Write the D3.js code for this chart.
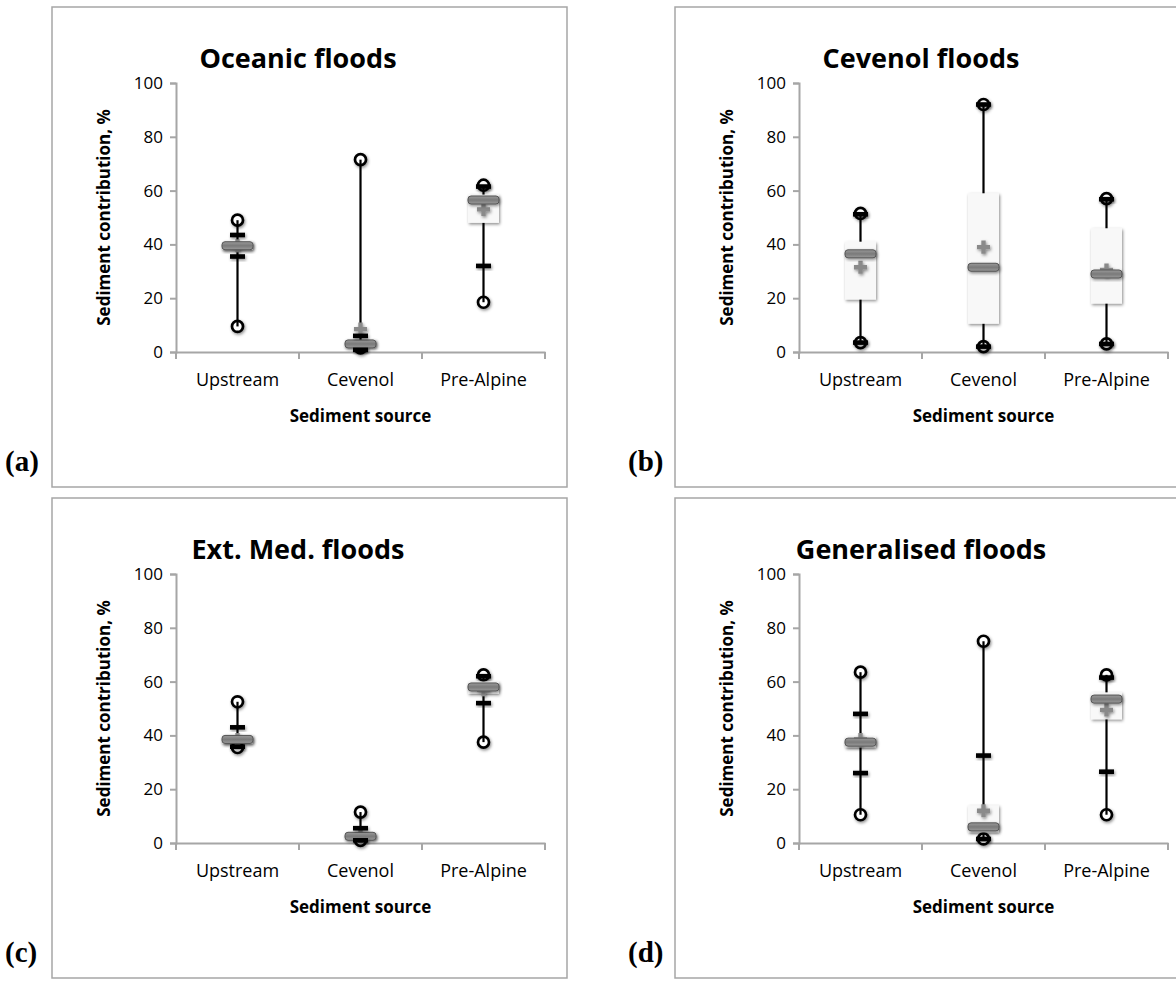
<!DOCTYPE html>
<html>
<head>
<meta charset="utf-8">
<script src="https://cdn.jsdelivr.net/npm/d3@7"></script>
<style>
  body { margin: 0; background: #fff; }
  svg { display: block; }
</style>
</head>
<body>
<div id="chart"></div>
<script>
// data (sediment contribution, %)
const categories = ["Upstream", "Cevenol", "Pre-Alpine"];
const panelTitles = ["Oceanic floods", "Cevenol floods", "Ext. Med. floods", "Generalised floods"];
const panelLetters = ["(a)", "(b)", "(c)", "(d)"];
const yTicks = [0, 20, 40, 60, 80, 100];

// one row per panel, one value per category
const minVals    = [[9.5, 1.5, 18.5], [3.5, 2, 3],     [35.5, 1, 37.5],  [10.5, 1.5, 10.5]];
const maxVals    = [[49, 71.5, 62],   [51.5, 92, 57],  [52.5, 11.5, 62.5], [63.5, 75, 62.5]];
const lowMarks   = [[35.5, 0.8, 32],  [3.5, 2, 3],     [35.8, 1, 52],    [26, 1.5, 26.5]];
const highMarks  = [[43.5, 6, 61.5],  [51.2, 92, 56.8], [43, 5.5, 62],   [48, 32.5, 61.5]];
const q1Vals     = [[38, 2, 48],      [19.5, 10.5, 18], [37, 1.5, 55.5], [35.5, 4, 46]];
const q3Vals     = [[41, 4.5, 58.5],  [41, 59, 46],    [40, 3.5, 60],    [39.5, 14, 56]];
const medianVals = [[39.5, 3, 56.5],  [36.5, 31.5, 29], [38.5, 2.5, 58], [37.5, 6, 53.5]];
const meanVals   = [[39.5, 8.5, 53],  [31.5, 39, 30.5], [38.5, 2.5, 57], [38.5, 12, 49.5]];

const W = 1176, H = 994;
const panelW = 515, panelH = 480;
const origins = [[52, 7], [675, 7], [52, 498], [675, 498]];
const m = { left: 124, right: 22, top: 76, bottom: 135 };

const svg = d3.select("#chart").append("svg")
  .attr("width", W).attr("height", H)
  .style("font-family", "'Open Sans', sans-serif");

const defs = svg.append("defs");
const shadow = defs.append("filter").attr("id", "shadow")
  .attr("x", "-50%").attr("y", "-50%").attr("width", "200%").attr("height", "200%");
shadow.append("feDropShadow").attr("dx", 1).attr("dy", 1.5)
  .attr("stdDeviation", 1.6).attr("flood-color", "#000").attr("flood-opacity", 0.45);

const grad = defs.append("linearGradient").attr("id", "medGrad")
  .attr("x1", 0).attr("y1", 0).attr("x2", 0).attr("y2", 1);
grad.append("stop").attr("offset", "0%").attr("stop-color", "#9a9a9a");
grad.append("stop").attr("offset", "50%").attr("stop-color", "#7a7a7a");
grad.append("stop").attr("offset", "100%").attr("stop-color", "#9a9a9a");

const x = d3.scaleBand().domain(categories)
  .range([m.left, panelW - m.right]).paddingInner(0).paddingOuter(0);
const y = d3.scaleLinear().domain([0, 100]).range([panelH - m.bottom, m.top]);

const axisColor = "#a6a6a6";

origins.forEach((o, p) => {
  // panel letter sits outside the frame
  svg.append("text")
    .attr("x", o[0] - 47).attr("y", o[1] + panelH - 16)
    .attr("font-family", "'Liberation Serif', 'Times New Roman', serif")
    .attr("font-weight", "bold").attr("font-size", 29)
    .text(panelLetters[p]);

  const g = svg.append("g").attr("transform", `translate(${o[0]},${o[1]})`);

  g.append("rect").attr("x", 0).attr("y", 0)
    .attr("width", panelW).attr("height", panelH)
    .attr("fill", "#fff").attr("stroke", axisColor).attr("stroke-width", 1.5);

  g.append("text")
    .attr("x", 246).attr("y", 61)
    .attr("text-anchor", "middle")
    .attr("font-weight", "bold").attr("font-size", 27)
    .text(panelTitles[p]);

  // y axis
  const yAxis = g.append("g").attr("transform", `translate(${m.left},0)`)
    .call(d3.axisLeft(y).tickValues(yTicks).tickSize(6).tickPadding(7));
  yAxis.select(".domain").attr("stroke", axisColor).attr("stroke-width", 2);
  yAxis.selectAll(".tick line").attr("stroke", axisColor).attr("stroke-width", 2);
  yAxis.selectAll(".tick text").attr("font-size", 17).attr("fill", "#000")
    .attr("font-family", "'Open Sans', sans-serif");

  // x axis, ticks between categories
  const xAxis = g.append("g").attr("transform", `translate(0,${y(0)})`)
    .call(d3.axisBottom(x).tickSize(0).tickPadding(21));
  xAxis.select(".domain").attr("stroke", axisColor).attr("stroke-width", 2);
  xAxis.selectAll(".tick text").attr("font-size", 18).attr("fill", "#000")
    .attr("font-family", "'Open Sans', sans-serif");
  const bounds = categories.map(c => x(c)).concat([x.range()[1]]);
  g.append("g").selectAll("line").data(bounds).enter().append("line")
    .attr("x1", d => d).attr("x2", d => d)
    .attr("y1", y(0)).attr("y2", y(0) + 7)
    .attr("stroke", axisColor).attr("stroke-width", 2);

  g.append("text")
    .attr("x", (x.range()[0] + x.range()[1]) / 2).attr("y", y(0) + 70)
    .attr("text-anchor", "middle").attr("font-weight", "bold").attr("font-size", 17)
    .text("Sediment source");

  g.append("text")
    .attr("transform", `translate(${m.left - 66},${(y(0) + y(100)) / 2}) rotate(-90)`)
    .attr("text-anchor", "middle").attr("font-weight", "bold").attr("font-size", 17)
    .text("Sediment contribution, %");

  const rows = categories.map((c, i) => ({
    cat: c,
    min: minVals[p][i], max: maxVals[p][i],
    lo: lowMarks[p][i], hi: highMarks[p][i],
    q1: q1Vals[p][i], q3: q3Vals[p][i],
    med: medianVals[p][i], mean: meanVals[p][i]
  }));
  const cx = d => x(d.cat) + x.bandwidth() / 2;
  const bw = 31;

  const marks = g.append("g");

  // min / max circles
  marks.selectAll(".minmax").data(rows.flatMap(d => [{ d, v: d.min }, { d, v: d.max }]))
    .enter().append("circle")
    .attr("cx", e => cx(e.d)).attr("cy", e => y(e.v)).attr("r", 5.5)
    .attr("fill", "#fff").attr("stroke", "#000").attr("stroke-width", 2.7)
    .attr("filter", "url(#shadow)");

  marks.selectAll(".whisker").data(rows).enter().append("line")
    .attr("x1", cx).attr("x2", cx)
    .attr("y1", d => y(d.min)).attr("y2", d => y(d.max))
    .attr("stroke", "#000").attr("stroke-width", 2.2);

  marks.selectAll(".box").data(rows).enter().append("rect")
    .attr("x", d => cx(d) - bw / 2).attr("y", d => y(d.q3))
    .attr("width", bw).attr("height", d => Math.max(y(d.q1) - y(d.q3), 1))
    .attr("fill", "#f8f8f8").attr("filter", "url(#shadow)");

  // mean as a plus
  marks.selectAll(".mean").data(rows).enter().append("path")
    .attr("transform", d => `translate(${cx(d)},${y(d.mean)})`)
    .attr("d", d3.symbol(d3.symbolCross, 95)())
    .attr("fill", "#8a8a8a").attr("filter", "url(#shadow)");

  marks.selectAll(".median").data(rows).enter().append("rect")
    .attr("x", d => cx(d) - bw / 2).attr("y", d => y(d.med) - 4)
    .attr("width", bw).attr("height", 8).attr("rx", 3)
    .attr("fill", "url(#medGrad)").attr("stroke", "#555").attr("stroke-width", 1)
    .attr("filter", "url(#shadow)");

  // black bars on the whisker
  marks.selectAll(".bar").data(rows.flatMap(d => [{ d, v: d.lo }, { d, v: d.hi }]))
    .enter().append("rect")
    .attr("x", e => cx(e.d) - 7.5).attr("y", e => y(e.v) - 2.3)
    .attr("width", 15).attr("height", 4.6)
    .attr("fill", "#000").attr("filter", "url(#shadow)");
});
</script>
</body>
</html>
